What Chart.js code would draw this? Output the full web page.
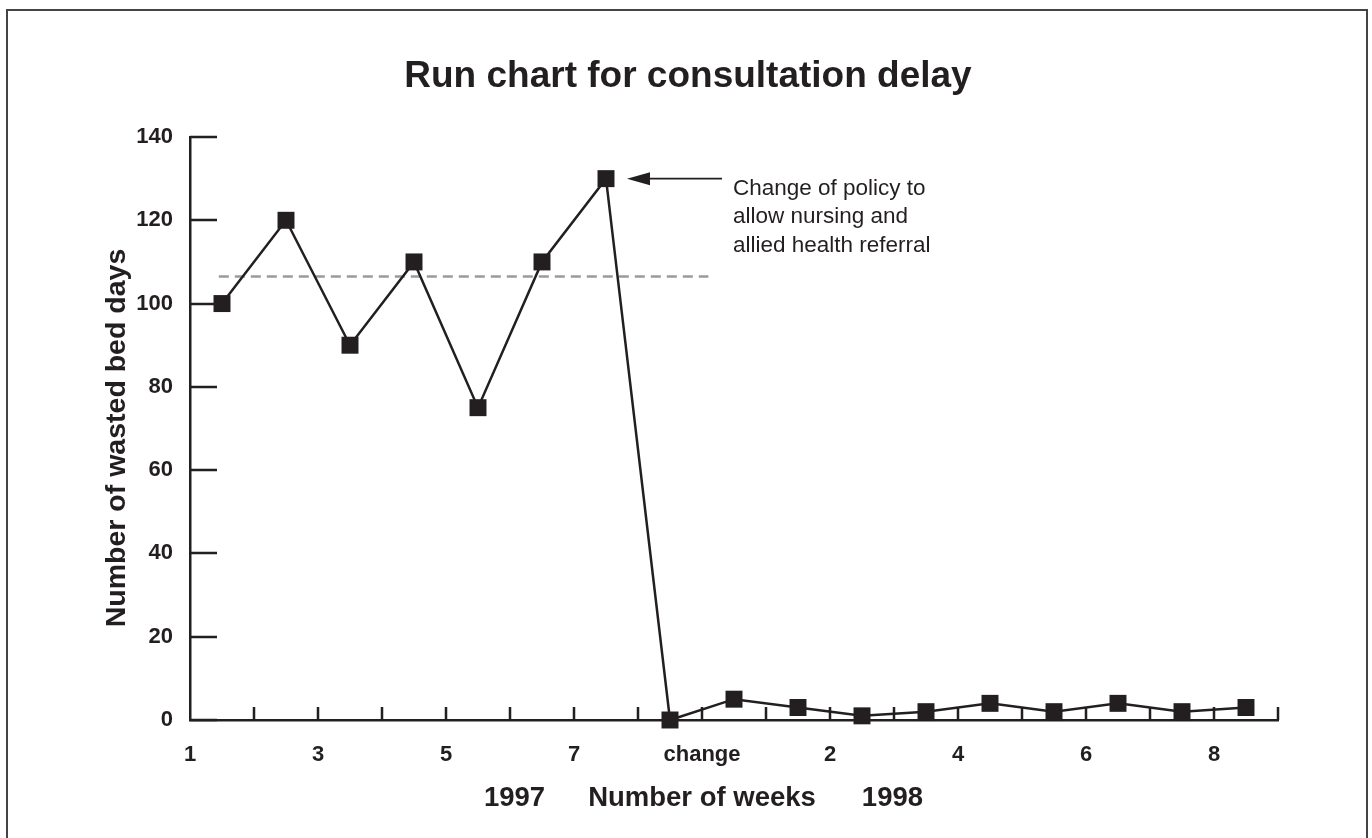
<!DOCTYPE html>
<html>
<head>
<meta charset="utf-8">
<script src="https://cdn.jsdelivr.net/npm/chart.js@4.4.0/dist/chart.umd.min.js"></script>
<style>
  html, body { margin: 0; padding: 0; background: #fff; }
</style>
</head>
<body>
<canvas id="runChart" width="1372" height="838"></canvas>
<script>
// weeks: 1997 weeks 1..7, then change, then 1998 weeks 1..9
const weekPos = [1.5, 2.5, 3.5, 4.5, 5.5, 6.5, 7.5, 8.5, 9.5, 10.5, 11.5, 12.5, 13.5, 14.5, 15.5, 16.5, 17.5];
const wastedDays = [100, 120, 90, 110, 75, 110, 130, 0, 5, 3, 1, 2, 4, 2, 4, 2, 3];
const tickValues = [1, 3, 5, 7, 9, 11, 13, 15, 17];
const tickNames = ['1', '3', '5', '7', 'change', '2', '4', '6', '8'];
const meanDays = 106.5;
const meanSpan = [1.45, 9.1];
const noteLines = ['Change of policy to', 'allow nursing and', 'allied health referral'];

const ink = '#231f20';
const fontFam = '"Liberation Sans", Arial, Helvetica, sans-serif';

const drawExtras = {
  id: 'drawExtras',
  beforeDraw(chart) {
    const ctx = chart.ctx;
    ctx.save();
    ctx.fillStyle = '#fff';
    ctx.fillRect(0, 0, chart.width, chart.height);
    // frame
    ctx.strokeStyle = '#444';
    ctx.lineWidth = 2;
    ctx.beginPath();
    ctx.moveTo(7, chart.height);
    ctx.lineTo(7, 10);
    ctx.lineTo(1367, 10);
    ctx.lineTo(1367, chart.height);
    ctx.stroke();
    ctx.restore();
  },
  afterDraw(chart) {
    const ctx = chart.ctx;
    const xs = chart.scales.x, ys = chart.scales.y;
    const area = chart.chartArea;
    ctx.save();
    ctx.strokeStyle = ink;
    ctx.fillStyle = ink;
    ctx.lineWidth = 2.5;

    // inside tick marks
    ctx.beginPath();
    for (let v = 2; v <= 18; v++) {
      const px = Math.round(xs.getPixelForValue(v));
      ctx.moveTo(px, area.bottom);
      ctx.lineTo(px, area.bottom - 13);
    }
    for (let v = 0; v <= 140; v += 20) {
      const py = Math.round(ys.getPixelForValue(v));
      ctx.moveTo(area.left, py);
      ctx.lineTo(area.left + 27, py);
    }
    ctx.stroke();

    // arrow to the peak
    const peak = chart.getDatasetMeta(0).data[wastedDays.indexOf(Math.max(...wastedDays))];
    const tipX = peak.x + 21, tailX = peak.x + 116, ay = peak.y;
    ctx.lineWidth = 1.8;
    ctx.beginPath();
    ctx.moveTo(tailX, ay);
    ctx.lineTo(tipX + 20, ay);
    ctx.stroke();
    ctx.beginPath();
    ctx.moveTo(tipX, ay);
    ctx.lineTo(tipX + 23, ay - 6.5);
    ctx.lineTo(tipX + 23, ay + 6.5);
    ctx.closePath();
    ctx.fill();

    // note
    ctx.font = '22.5px ' + fontFam;
    ctx.textAlign = 'left';
    ctx.textBaseline = 'middle';
    noteLines.forEach((t, i) => ctx.fillText(t, tailX + 11, ay + 10 + i * 28.5));

    // title
    ctx.font = 'bold 37px ' + fontFam;
    ctx.textAlign = 'center';
    ctx.fillText('Run chart for consultation delay', 688, 77);

    // y axis caption
    ctx.save();
    ctx.font = 'bold 28.5px ' + fontFam;
    ctx.translate(117, 438);
    ctx.rotate(-Math.PI / 2);
    ctx.fillText('Number of wasted bed days', 0, 0);
    ctx.restore();

    // bottom axis caption
    ctx.font = 'bold 27.5px ' + fontFam;
    const cx = xs.getPixelForValue(9);
    const midText = 'Number of weeks';
    const half = ctx.measureText(midText).width / 2;
    ctx.fillText(midText, cx, 798);
    ctx.textAlign = 'right';
    ctx.fillText('1997', cx - half - 43, 798);
    ctx.textAlign = 'left';
    ctx.fillText('1998', cx + half + 46, 798);
    ctx.restore();
  }
};

new Chart(document.getElementById('runChart'), {
  type: 'line',
  data: {
    datasets: [{
      data: weekPos.map((x, i) => ({ x: x, y: wastedDays[i] })),
      borderColor: ink,
      borderWidth: 2.5,
      pointStyle: 'rect',
      pointRadius: 12,
      pointBorderWidth: 0,
      pointBackgroundColor: ink,
      tension: 0,
      clip: false
    }, {
      data: meanSpan.map(x => ({ x: x, y: meanDays })),
      borderColor: '#9b9b9b',
      borderWidth: 2.5,
      borderDash: [10, 6],
      pointRadius: 0,
      clip: false
    }]
  },
  options: {
    responsive: false,
    animation: false,
    layout: { padding: { top: 137, right: 94, left: 0, bottom: 0 } },
    plugins: {
      legend: { display: false },
      tooltip: { enabled: false },
      title: { display: false }
    },
    scales: {
      x: {
        type: 'linear',
        min: 1,
        max: 18,
        afterFit(scale) { scale.height = 118; },
        grid: { display: false },
        border: { display: true, color: ink, width: 2.5 },
        ticks: {
          stepSize: 1,
          autoSkip: false,
          maxRotation: 0,
          padding: 14,
          color: ink,
          font: { family: fontFam, size: 22, weight: 'bold' },
          callback: v => {
            const i = tickValues.indexOf(v);
            return i >= 0 ? tickNames[i] : '';
          }
        }
      },
      y: {
        min: 0,
        max: 140,
        afterFit(scale) { scale.width = 190; },
        grid: { display: false },
        border: { display: true, color: ink, width: 2.5 },
        ticks: {
          stepSize: 20,
          padding: 9,
          color: ink,
          font: { family: fontFam, size: 22, weight: 'bold' }
        }
      }
    }
  },
  plugins: [drawExtras]
});
</script>
</body>
</html>
